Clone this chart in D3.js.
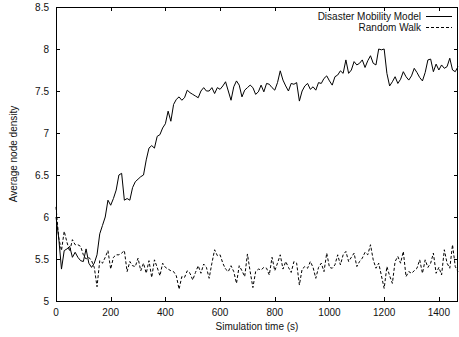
<!DOCTYPE html>
<html><head><meta charset="utf-8">
<script src="https://cdn.jsdelivr.net/npm/d3@7"></script>
<style>body{margin:0;background:#fff}svg{display:block}text{font-family:"Liberation Sans",Arial,sans-serif;font-size:10px;fill:#111}</style>
</head><body><svg id="c" width="459" height="337"></svg>
<script>
const times = d3.range(0, 1471, 10);
const disaster = [6.00,5.75,5.38,5.60,5.62,5.65,5.52,5.58,5.52,5.48,5.47,5.62,5.45,5.40,5.45,5.55,5.80,5.90,6.00,6.20,
6.14,6.22,6.32,6.50,6.52,6.20,6.22,6.20,6.35,6.42,6.45,6.48,6.50,6.68,6.82,6.85,6.82,6.96,6.98,7.06,
7.11,7.26,7.14,7.34,7.40,7.43,7.39,7.42,7.51,7.48,7.46,7.44,7.42,7.50,7.54,7.50,7.50,7.54,7.47,7.54,
7.52,7.56,7.61,7.50,7.39,7.55,7.62,7.57,7.43,7.51,7.54,7.57,7.54,7.46,7.49,7.57,7.49,7.59,7.58,7.54,
7.51,7.60,7.74,7.63,7.56,7.50,7.59,7.58,7.60,7.38,7.50,7.56,7.59,7.52,7.55,7.51,7.60,7.59,7.65,7.68,
7.62,7.57,7.67,7.69,7.74,7.71,7.87,7.71,7.75,7.85,7.81,7.83,7.87,7.78,7.86,7.92,7.83,7.81,8.00,7.99,
8.00,7.71,7.56,7.61,7.67,7.59,7.64,7.73,7.67,7.63,7.68,7.77,7.72,7.66,7.62,7.72,7.87,7.88,7.73,7.82,
7.75,7.81,7.77,7.79,7.89,7.75,7.73,7.79];
const randomWalk = [6.12,5.75,5.60,5.83,5.70,5.59,5.73,5.67,5.67,5.65,5.55,5.50,5.52,5.48,5.40,5.17,5.48,5.45,5.52,5.60,
5.38,5.52,5.55,5.55,5.57,5.60,5.35,5.47,5.42,5.41,5.51,5.36,5.45,5.33,5.48,5.28,5.49,5.40,5.30,5.45,
5.40,5.38,5.36,5.35,5.30,5.14,5.29,5.28,5.36,5.33,5.25,5.34,5.42,5.33,5.44,5.40,5.27,5.45,5.61,5.54,
5.55,5.45,5.38,5.35,5.42,5.35,5.21,5.42,5.36,5.29,5.56,5.35,5.16,5.35,5.38,5.37,5.40,5.39,5.31,5.52,
5.36,5.45,5.55,5.38,5.47,5.40,5.34,5.47,5.45,5.19,5.38,5.41,5.39,5.47,5.40,5.27,5.40,5.45,5.35,5.57,
5.40,5.39,5.43,5.55,5.43,5.55,5.59,5.47,5.52,5.57,5.41,5.47,5.51,5.58,5.55,5.67,5.49,5.39,5.45,5.30,
5.15,5.41,5.30,5.21,5.47,5.53,5.45,5.59,5.29,5.35,5.33,5.36,5.39,5.49,5.33,5.49,5.40,5.45,5.57,5.33,
5.40,5.31,5.61,5.45,5.39,5.67,5.41,5.35];
const xTicks = [0,200,400,600,800,1000,1200,1400];
const yTicks = [5,5.5,6,6.5,7,7.5,8,8.5];
const seriesNames = ["Disaster Mobility Model","Random Walk"];

const svg = d3.select("#c");
const L=56, R=458, T=7, B=301;
const x = d3.scaleLinear().domain([0,1470]).range([L,R]);
const y = d3.scaleLinear().domain([5,8.5]).range([B,T]);
const tk = 4;

// ticks
const g = svg.append("g").attr("stroke","#000").attr("stroke-width",1);
xTicks.forEach(t=>{
  const px = Math.round(x(t))+0.5;
  g.append("line").attr("x1",px).attr("x2",px).attr("y1",B).attr("y2",B-tk);
  g.append("line").attr("x1",px).attr("x2",px).attr("y1",T).attr("y2",T+tk);
});
yTicks.forEach(v=>{
  const py = Math.round(y(v))+0.5;
  g.append("line").attr("x1",L).attr("x2",L+tk).attr("y1",py).attr("y2",py);
  g.append("line").attr("x1",R).attr("x2",R-tk).attr("y1",py).attr("y2",py);
});
svg.append("rect").attr("x",L+0.5).attr("y",T+0.5).attr("width",R-L-1).attr("height",B-T)
  .attr("fill","none").attr("stroke","#000").attr("stroke-width",1);

xTicks.forEach(t=>{
  svg.append("text").attr("x",x(t)).attr("y",316).attr("text-anchor","middle").text(t);
});
yTicks.forEach(v=>{
  svg.append("text").attr("x",49).attr("y",y(v)+3.5).attr("text-anchor","end").text(v);
});
svg.append("text").attr("x",(L+R)/2).attr("y",330).attr("text-anchor","middle").text("Simulation time (s)");
svg.append("text").attr("transform",`translate(17,${(T+B)/2}) rotate(-90)`).attr("text-anchor","middle").text("Average node density");

const line = d3.line().x((d,i)=>x(times[i])).y(d=>y(d));
svg.append("path").datum(disaster).attr("d",line).attr("fill","none").attr("stroke","#000").attr("stroke-width",1);
svg.append("path").datum(randomWalk).attr("d",line).attr("fill","none").attr("stroke","#000").attr("stroke-width",1).attr("stroke-dasharray","3,2");

// legend
const lg = [{name:seriesNames[0],dash:null,y:16},{name:seriesNames[1],dash:"3,2",y:27}];
lg.forEach(d=>{
  svg.append("text").attr("x",421).attr("y",d.y+3.5).attr("text-anchor","end").text(d.name);
  const l = svg.append("line").attr("x1",426).attr("x2",452).attr("y1",d.y+0.5).attr("y2",d.y+0.5).attr("stroke","#000").attr("stroke-width",1);
  if(d.dash) l.attr("stroke-dasharray",d.dash);
});
</script></body></html>
